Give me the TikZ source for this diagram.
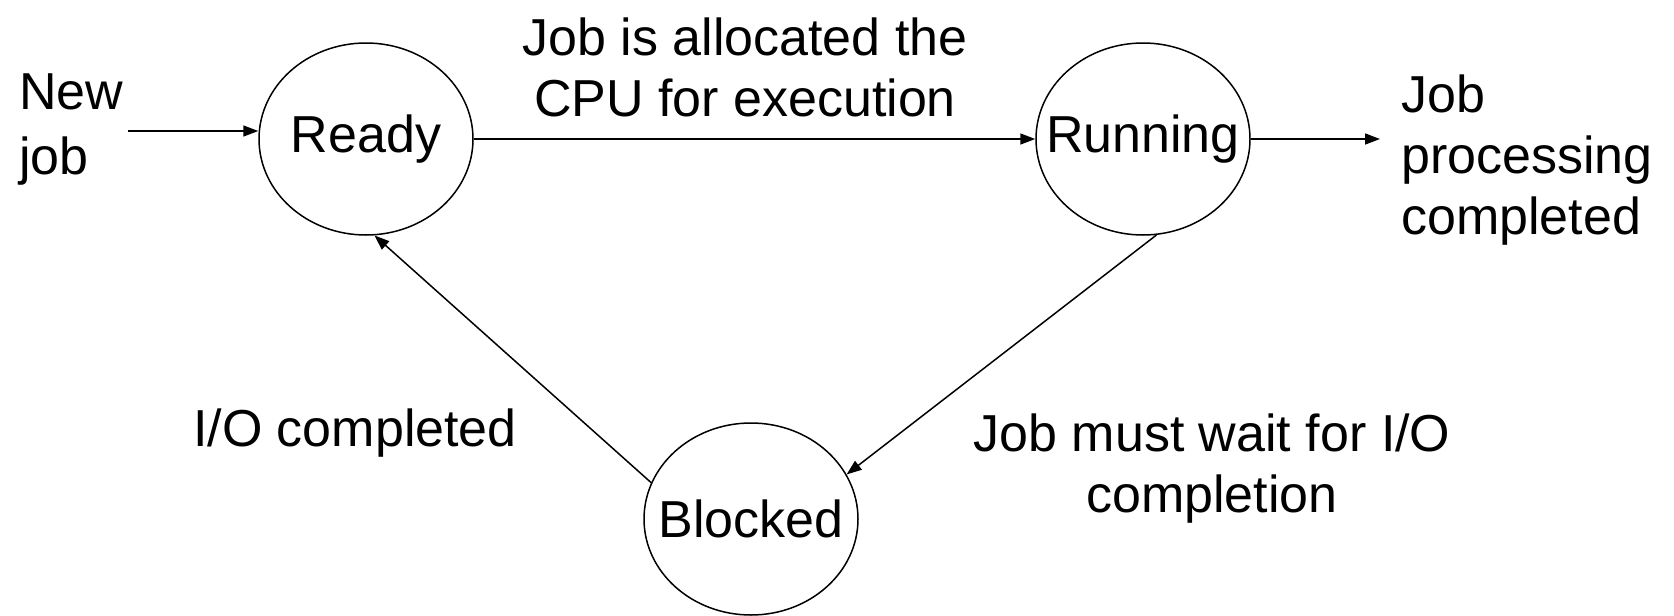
\documentclass[tikz,border=0pt]{standalone}
\usepackage{fontspec}
\setmainfont{Liberation Sans}
\usetikzlibrary{shapes.geometric,arrows.meta}
\begin{document}
\begin{tikzpicture}[x=1pt,y=-1pt,
  state/.style={ellipse,draw,line width=1.5pt,inner sep=0pt,minimum width=214pt,minimum height=192pt},
  lbl/.style={inner sep=0pt,font=\fontsize{52}{61}\selectfont},
  arr/.style={line width=1.5pt,-{Triangle[length=15pt,width=11pt]}}]
\useasboundingbox (0,0) rectangle (1674,616);
\node[state,lbl] (ready) at (366,139) {\makebox[0pt]{Ready}};
\node[state,lbl] (running) at (1143,139) {\makebox[0pt]{Running}};
\node[state,lbl] (blocked) at (751,519) {\makebox[0pt]{Blocked}};
\node[lbl,align=left,anchor=west,font=\fontsize{52}{65}\selectfont] (newjob) at (19,130) {New\\job};
\coordinate (nj) at (128,131);
\coordinate (out) at (1380,139);
\node[lbl,align=center] (alloc) at (745,67) {Job is allocated the\\CPU for execution};
\node[lbl,align=left,anchor=west] (done) at (1401,160) {Job\\processing\\completed};
\node[lbl] (io) at (355,433) {I/O completed};
\node[lbl,align=center] (wait) at (1212,469) {Job must wait for I/O\\completion};
\draw[arr] (nj) -- (nj -| ready.west);
\draw[arr] (ready) -- (running);
\draw[arr] (running.east) -- (out);
\draw[arr] (running.-82) -- (blocked.25);
\draw[arr] (blocked.160) -- (ready.-85);
\end{tikzpicture}
\end{document}
